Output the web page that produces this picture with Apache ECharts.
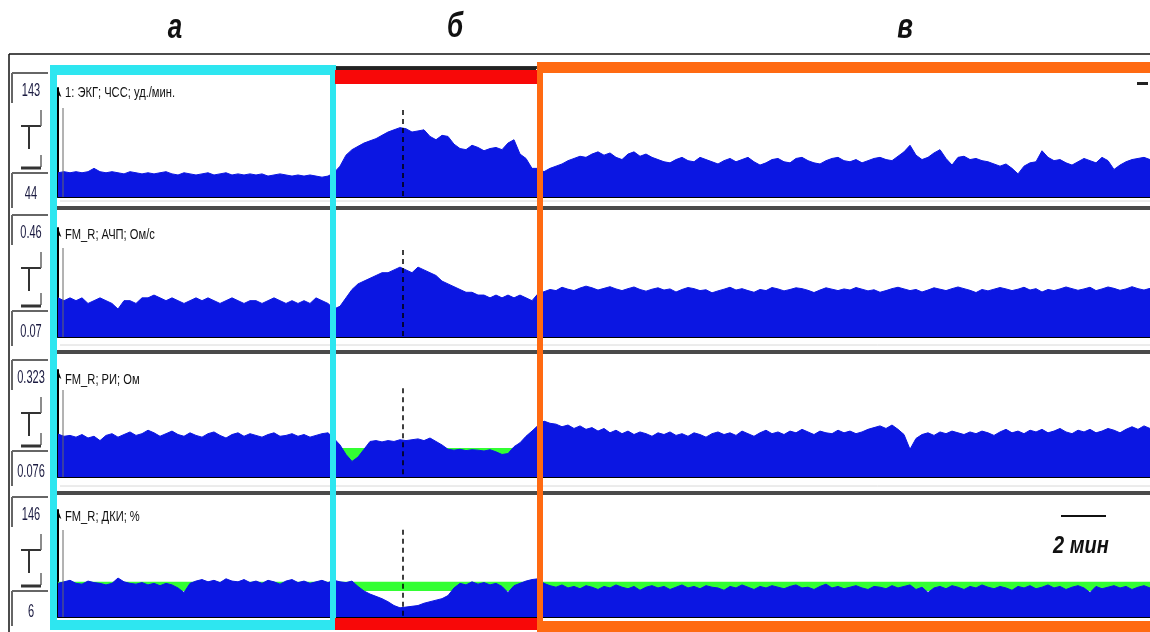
<!DOCTYPE html>
<html><head><meta charset="utf-8">
<script src="https://cdn.jsdelivr.net/npm/echarts@6/dist/echarts.min.js"></script>
<style>html,body{margin:0;padding:0;background:#fff}#c{width:1150px;height:632px}</style>
</head><body><div id="c"></div>
<script>
// ---------- texts ----------
const sectionLabels = ['а', 'б', 'в'];
const channelTitles = ['1: ЭКГ; ЧСС; уд./мин.', 'FM_R; АЧП; Ом/с', 'FM_R; РИ; Ом', 'FM_R; ДКИ; %'];
const axisMaxLabels = ['143', '0.46', '0.323', '146'];
const axisMinLabels = ['44', '0.07', '0.076', '6'];
const yMin = [44, 0.07, 0.076, 6];
const yMax = [143, 0.46, 0.323, 146];
const scaleLabel = '2 мин';

// ---------- channel 1: heart rate (section а, б, в) ----------
const hrA = [66,67,66,67,66,67,70,67,66,67, 66,65,67,66,65,66,65,66,67,65, 64,66,65,64,65,66,64,65,66,64, 65,64,65,64,65,63,64,65,64,63, 64,63,64,63,62,63];
const hrB = [66,72,82,87,90,93,95,97,100,103, 105,107,106,103,104,105,99,96,100,99, 92,88,87,91,89,86,88,89,87,93, 96,83,79,70];
const hrC = [70,67,70,72,74,77,79,81,80,83, 85,82,84,80,78,83,85,81,83,80, 78,76,75,78,80,77,76,80,78,76,
  74,77,79,76,78,80,76,73,75,78, 79,76,75,79,80,77,75,74,77,79, 80,77,76,78,75,77,79,80,78,77,
  81,85,91,82,78,80,84,87,79,73, 80,81,78,79,77,76,74,72,74,70, 65,72,75,76,86,80,77,78,75,73,
  76,79,77,75,80,77,69,73,76,78, 79,80,78];

// ---------- channel 2: АЧП ----------
const achpA = [0.21,0.20,0.21,0.20,0.21,0.19,0.20,0.21,0.20,0.19, 0.17,0.20,0.20,0.19,0.21,0.21,0.22,0.21,0.20,0.21,
  0.20,0.19,0.20,0.21,0.20,0.21,0.20,0.19,0.20,0.21, 0.20,0.19,0.20,0.20,0.19,0.20,0.21,0.20,0.19,0.20, 0.19,0.20,0.19,0.21,0.20,0.19];
const achpB = [0.17,0.18,0.21,0.24,0.26,0.27,0.28,0.29,0.30,0.30, 0.31,0.32,0.31,0.30,0.32,0.31,0.30,0.29,0.27,0.26,
  0.25,0.24,0.23,0.23,0.22,0.22,0.21,0.22,0.21,0.22, 0.21,0.22,0.21,0.20];
const achpC = [0.225,0.232,0.240,0.236,0.248,0.241,0.236,0.245,0.252,0.246, 0.238,0.244,0.250,0.242,0.236,0.243,0.249,0.240,0.234,0.241,
  0.246,0.238,0.242,0.231,0.240,0.247,0.243,0.236,0.239,0.228, 0.235,0.241,0.248,0.238,0.243,0.236,0.230,0.240,0.236,0.247,
  0.242,0.235,0.240,0.246,0.243,0.237,0.229,0.238,0.246,0.241, 0.236,0.242,0.238,0.247,0.241,0.235,0.239,0.230,0.236,0.243,
  0.248,0.242,0.236,0.240,0.231,0.238,0.246,0.241,0.236,0.243, 0.249,0.243,0.237,0.229,0.240,0.235,0.241,0.247,0.242,0.236,
  0.241,0.248,0.238,0.243,0.231,0.240,0.236,0.242,0.249,0.243, 0.237,0.242,0.248,0.236,0.242,0.249,0.244,0.237,0.242,0.250,
  0.243,0.238,0.244];

// ---------- channel 3: РИ ----------
const riA = [0.175,0.170,0.172,0.168,0.174,0.166,0.170,0.160,0.172,0.176, 0.168,0.174,0.180,0.172,0.176,0.184,0.178,0.170,0.176,0.182,
  0.174,0.170,0.178,0.172,0.168,0.176,0.180,0.172,0.166,0.174, 0.178,0.170,0.176,0.172,0.168,0.174,0.178,0.170,0.172,0.176,
  0.170,0.174,0.168,0.172,0.176,0.178];
const riB = [0.165,0.150,0.128,0.112,0.122,0.140,0.158,0.160,0.157,0.160, 0.158,0.162,0.160,0.162,0.164,0.160,0.166,0.158,0.150,0.140,
  0.138,0.140,0.137,0.139,0.138,0.136,0.139,0.134,0.128,0.130, 0.146,0.155,0.170,0.182];
const riC = [0.195,0.205,0.200,0.198,0.192,0.196,0.188,0.194,0.186,0.190, 0.182,0.188,0.178,0.184,0.176,0.182,0.174,0.180,0.176,0.170,
  0.178,0.174,0.180,0.172,0.176,0.170,0.178,0.174,0.168,0.176, 0.180,0.174,0.178,0.172,0.182,0.176,0.170,0.178,0.184,0.176,
  0.180,0.174,0.182,0.178,0.186,0.180,0.174,0.182,0.178,0.176, 0.184,0.178,0.182,0.176,0.180,0.186,0.190,0.194,0.188,0.196,
  0.186,0.174,0.140,0.165,0.174,0.178,0.172,0.180,0.176,0.182, 0.178,0.174,0.180,0.176,0.182,0.178,0.172,0.180,0.186,0.178,
  0.182,0.176,0.184,0.180,0.186,0.178,0.182,0.188,0.180,0.176, 0.184,0.180,0.186,0.178,0.182,0.188,0.184,0.178,0.186,0.192,
  0.186,0.194,0.188];

// ---------- channel 4: ДКИ ----------
const dkiA = [50,52,54,50,49,53,51,50,48,50, 57,52,50,49,51,48,50,47,50,48, 44,38,50,53,55,52,54,51,56,53,
  52,55,51,53,50,54,52,49,53,55, 51,53,50,52,54,51];
const dkiB = [54,52,51,53,46,40,36,33,30,26, 21,18,19,20,21,24,26,28,30,34, 44,50,48,52,49,51,48,50,46,38, 47,50,53,55];
const dkiC = [56,50,47,45,48,44,46,43,47,45, 42,46,44,48,45,43,46,41,45,47, 44,46,42,45,48,44,46,43,47,45,
  44,41,46,44,48,45,42,46,44,47, 45,43,46,48,44,45,42,46,49,44, 46,43,45,47,44,42,46,45,43,47,
  44,46,48,42,45,38,44,46,43,47, 45,42,46,44,48,45,43,46,44,41, 46,44,47,43,45,48,44,46,42,45,
  47,44,38,46,43,45,47,44,46,42, 45,47,44];

// reference (green) levels and event marker
const refLevel = [null, null, 0.143, 52];
const refDepth = [null, null, 0.06, 12];
const markerIndex = 57.5;
const markerTop = [123, 0.381, 0.281, 120];

// ---------- build ----------
const channels = [hrA.concat(hrB, hrC), achpA.concat(achpB, achpC), riA.concat(riB, riC), dkiA.concat(dkiB, dkiC)];
const N = channels[0].length;

const BLUE = '#0b16e2', GREEN = '#33ff33', CYAN = '#2ee6f0', RED = '#f80808', ORANGE = '#ff6a12';
const gridTop = [88, 228, 370, 510];
const gridH = [109, 109, 107, 107];
const topLabelY = [91, 233, 378, 515];
const botLabelY = [194, 332, 472, 612];

const series = [];
channels.forEach((arr, p) => {
  const mark = {
    silent: true, symbol: ['none', 'none'], label: {show: false},
    lineStyle: {color: '#000', width: 1.5, type: [5, 4]},
    data: [[{coord: [markerIndex, markerTop[p]]}, {coord: [markerIndex, yMin[p]]}]]
  };
  if (refLevel[p] !== null) {
    const L = refLevel[p], D = refDepth[p];
    // green band: reference level down to (level - depth); white below the band; signal on top
    series.push({type: 'line', xAxisIndex: p, yAxisIndex: p, data: arr.map((v, i) => [i, L]), symbol: 'none',
      lineStyle: {width: 0, opacity: 0}, areaStyle: {color: GREEN, opacity: 1, origin: 'start'}, z: 1, silent: true});
    series.push({type: 'line', xAxisIndex: p, yAxisIndex: p, data: arr.map((v, i) => [i, L - D]), symbol: 'none',
      lineStyle: {width: 0, opacity: 0}, areaStyle: {color: '#fff', opacity: 1, origin: 'start'}, z: 2, silent: true});
  }
  series.push({
    type: 'line', xAxisIndex: p, yAxisIndex: p, data: arr.map((v, i) => [i, v]), symbol: 'none', showSymbol: false,
    lineStyle: {color: BLUE, width: 1}, areaStyle: {color: BLUE, opacity: 1, origin: 'start'}, z: 3, silent: true,
    markLine: mark
  });
});

// ---------- graphic decorations ----------
const G = [];
function rect(x, y, w, h, fill, z) { G.push({type: 'rect', shape: {x, y, width: w, height: h}, style: {fill}, z: z || 50, silent: true}); }
function line(x1, y1, x2, y2, stroke, lw, z) { G.push({type: 'line', shape: {x1, y1, x2, y2}, style: {stroke, lineWidth: lw}, z: z || 50, silent: true}); }
function text(t, x, y, font, sx, sy, align, fill) {
  G.push({type: 'text', x, y, scaleX: sx, scaleY: sy, z: 80, silent: true,
    style: {text: t, font, fill: fill || '#111', align, verticalAlign: 'middle', textAlign: align, textVerticalAlign: 'middle'}});
}
// outer frame
line(9, 54, 1150, 54, '#111', 1.5);
line(9, 54, 9, 632, '#111', 1.5);
rect(55, 66, 1095, 3, '#333', 40);
// separators between channels
[206, 350, 491].forEach(y => { rect(55, y, 1095, 4, '#4a4a4a', 40); line(60, y - 5, 1150, y - 5, '#d8d8d8', 1, 40); });
// left scale boxes
const NARROW = '13px "Liberation Sans", Arial, sans-serif';
for (let p = 0; p < 4; p++) {
  const tl = topLabelY[p], bl = botLabelY[p];
  line(12, tl - 18, 48, tl - 18, '#666', 2);
  line(12, tl - 18, 12, tl + 12, '#666', 2);
  text(axisMaxLabels[p], 31, tl, NARROW, 0.85, 1.45, 'center', '#1a1a40');
  line(21, tl + 35, 41, tl + 35, '#333', 2);
  line(29, tl + 35, 29, tl + 58, '#333', 2);
  line(41, tl + 19, 41, tl + 35, '#666', 1.5);
  line(41, bl - 39, 41, bl - 27, '#666', 1.5);
  line(21, bl - 26, 41, bl - 26, '#333', 3);
  line(12, bl - 21, 48, bl - 21, '#666', 2);
  line(12, bl - 21, 12, bl + 14, '#666', 2);
  text(axisMinLabels[p], 31, bl, NARROW, 0.85, 1.45, 'center', '#1a1a40');
  line(63, gridTop[p] + 20, 63, gridTop[p] + gridH[p], '#666', 1, 5);
  text(channelTitles[p], 65, tl + 2, '12px "Liberation Sans", Arial, sans-serif', 0.93, 1.18, 'left', '#111');
}
// artefacts
rect(507, 86, 31, 47, '#fff', 65);
rect(1137, 82, 11, 3, '#222', 65);
// cyan frame (а)
rect(50, 65, 286, 10, CYAN, 70); rect(50, 65, 7, 565, CYAN, 70); rect(330, 65, 6, 565, CYAN, 70); rect(50, 620, 286, 10, CYAN, 70);
// red bars (б)
rect(336, 67, 200, 3, '#222', 69);
rect(335, 70, 202, 14, RED, 70); rect(335, 618, 202, 12, RED, 70);
// orange frame (в)
rect(537, 62, 620, 11, ORANGE, 71); rect(537, 62, 6, 570, ORANGE, 71); rect(537, 621, 620, 11, ORANGE, 71);
// section headers
const HEAD = 'italic bold 26px "Liberation Sans", Arial, sans-serif';
text(sectionLabels[0], 175, 28, HEAD, 1, 1.35, 'center', '#111');
text(sectionLabels[1], 455, 27, HEAD, 1, 1.35, 'center', '#111');
text(sectionLabels[2], 905, 28, HEAD, 1, 1.35, 'center', '#111');
// time scale bar
line(1061, 516, 1106, 516, '#111', 2, 80);
text(scaleLabel, 1081, 546, 'italic bold 20px "Liberation Sans", Arial, sans-serif', 1, 1.2, 'center', '#111');

const chart = echarts.init(document.getElementById('c'), null, {renderer: 'canvas'});
chart.setOption({
  animation: false,
  backgroundColor: '#fff',
  grid: gridTop.map((t, i) => ({left: 58, right: 0, top: t, height: gridH[i], containLabel: false})),
  xAxis: [0, 1, 2, 3].map(i => ({
    type: 'value', gridIndex: i, min: 0, max: N - 1,
    axisLine: {show: true, onZero: false, lineStyle: {color: '#000', width: 2}},
    axisTick: {show: false}, axisLabel: {show: false}, splitLine: {show: false}
  })),
  yAxis: [0, 1, 2, 3].map(i => ({
    type: 'value', gridIndex: i, min: yMin[i], max: yMax[i],
    axisLine: {show: true, onZero: false, symbol: ['none', 'arrow'], symbolSize: [5, 9], lineStyle: {color: '#000', width: 2}},
    axisTick: {show: false}, axisLabel: {show: false}, splitLine: {show: false}
  })),
  series,
  graphic: G
});
</script></body></html>
